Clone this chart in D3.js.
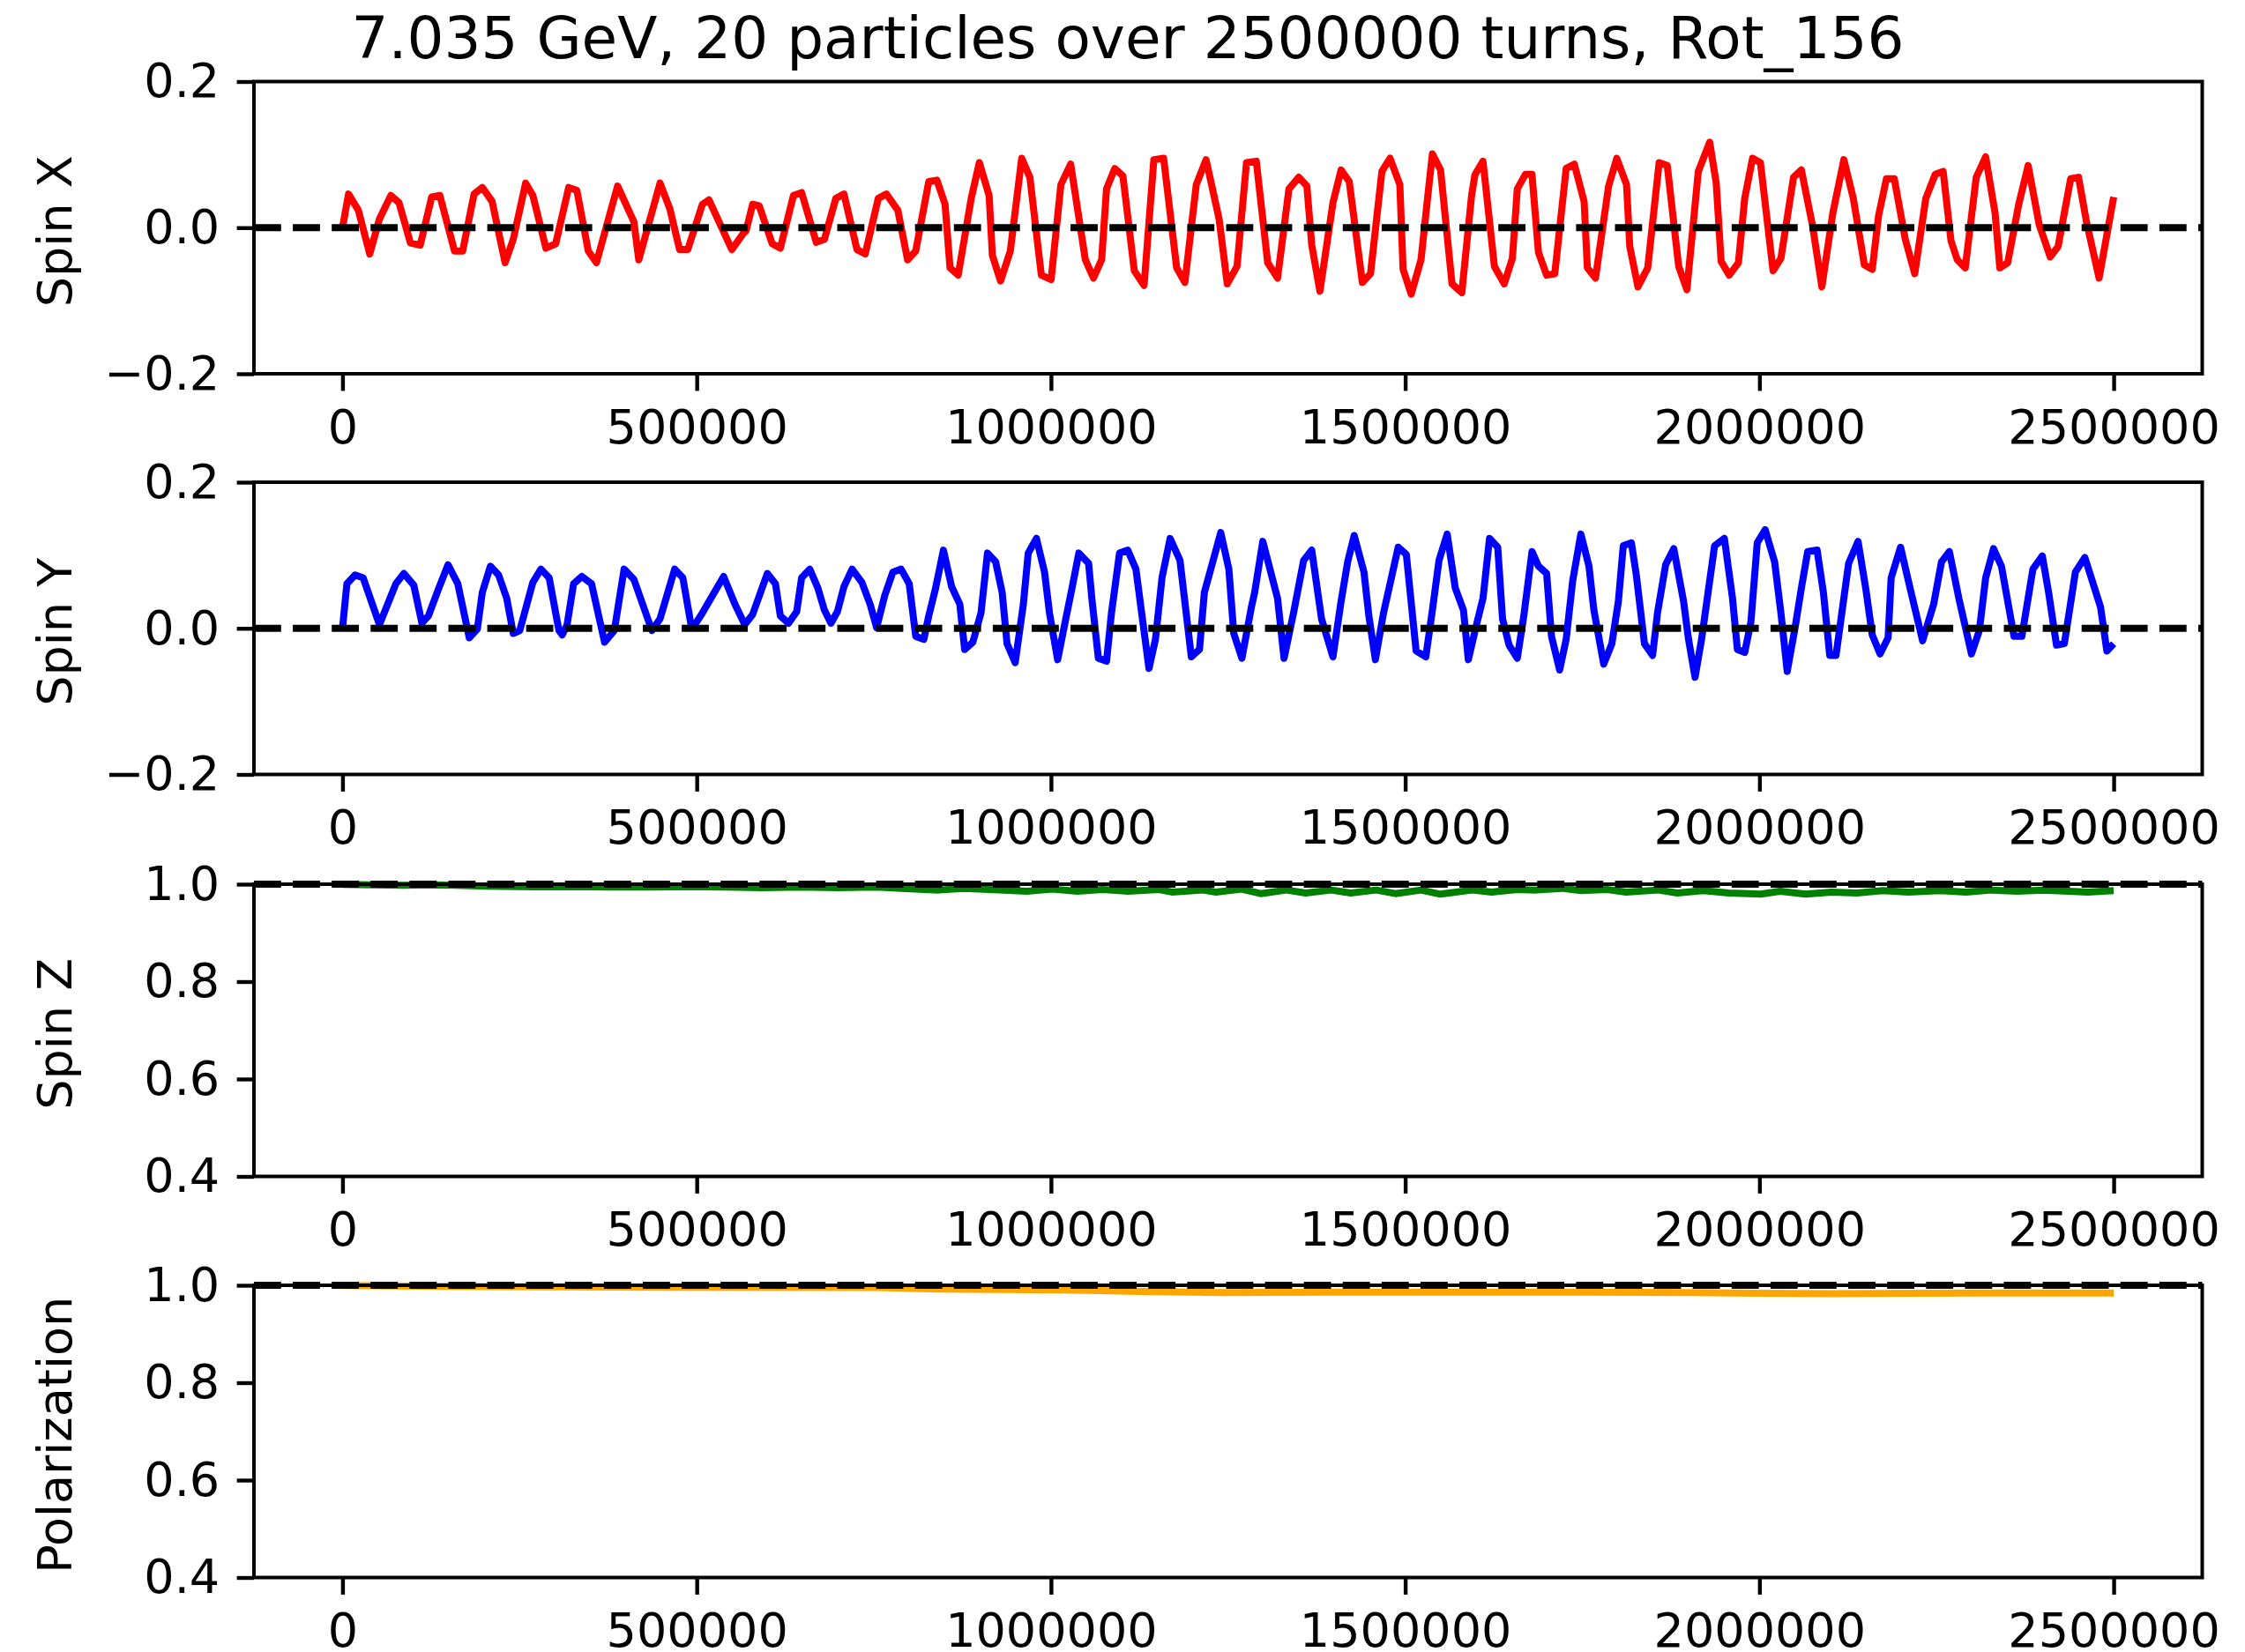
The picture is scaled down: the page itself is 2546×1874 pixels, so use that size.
<!DOCTYPE html>
<html><head><meta charset="utf-8">
<script src="https://cdn.jsdelivr.net/npm/d3@7"></script>
<style>body{margin:0;background:#fff} svg{display:block} text{font-family:"DejaVu Sans",sans-serif;fill:#000}</style>
</head><body><svg id="c" width="2546" height="1874"></svg>
<script>
const title = "7.035 GeV, 20 particles over 2500000 turns, Rot_156";
const xTicks = [0, 500000, 1000000, 1500000, 2000000, 2500000];
const spinTicks = [-0.2, 0.0, 0.2];
const fracTicks = [0.4, 0.6, 0.8, 1.0];
const panelLabels = ["Spin X", "Spin Y", "Spin Z", "Polarization"];

// [turn, value] vertices
const spinX = [[0,0],[8500,0.046],[22300,0.024],[38400,-0.036],[52200,0.012],[68300,0.044],[79800,0.034],[95900,-0.021],[109700,-0.024],[125900,0.042],[137400,0.044],[158100,-0.032],[169600,-0.032],[185700,0.046],[197300,0.055],[211100,0.036],[229500,-0.048],[241000,-0.016],[258500,0.061],[268700,0.044],[287100,-0.028],[300900,-0.022],[319300,0.055],[330800,0.051],[346900,-0.032],[358400,-0.048],[388300,0.057],[411300,0.008],[418200,-0.044],[448200,0.061],[462000,0.026],[475800,-0.030],[487300,-0.030],[508000,0.032],[517200,0.038],[549500,-0.030],[565600,-0.008],[569700,-0.004],[578900,0.032],[588100,0.030],[606500,-0.022],[618000,-0.028],[636500,0.044],[648000,0.048],[668700,-0.020],[680200,-0.016],[696300,0.040],[707800,0.046],[726200,-0.030],[737800,-0.036],[756200,0.040],[767700,0.046],[783800,0.024],[797600,-0.044],[809100,-0.032],[827500,0.063],[839000,0.065],[850500,0.032],[857500,-0.055],[869000,-0.065],[887400,0.040],[898900,0.089],[912700,0.044],[917300,-0.038],[928800,-0.073],[942600,-0.032],[958700,0.095],[970200,0.069],[986400,-0.065],[1000200,-0.071],[1014000,0.059],[1027800,0.087],[1048500,-0.044],[1060000,-0.069],[1071500,-0.044],[1078400,0.053],[1090000,0.081],[1101500,0.071],[1117600,-0.059],[1131400,-0.079],[1145200,0.093],[1159000,0.095],[1177400,-0.055],[1189000,-0.075],[1205100,0.059],[1218900,0.093],[1237300,0.012],[1248800,-0.077],[1262600,-0.053],[1276000,0.089],[1289800,0.091],[1305900,-0.048],[1319800,-0.069],[1335900,0.053],[1349700,0.069],[1361200,0.057],[1368100,-0.024],[1379600,-0.087],[1398000,0.034],[1409500,0.079],[1421000,0.063],[1439500,-0.075],[1451000,-0.063],[1467100,0.077],[1478600,0.095],[1492400,0.059],[1497000,-0.057],[1508500,-0.091],[1522300,-0.044],[1531500,0.040],[1538400,0.101],[1549900,0.079],[1566100,-0.077],[1579900,-0.089],[1593700,0.044],[1598300,0.072],[1609800,0.091],[1625900,-0.053],[1639800,-0.077],[1651300,-0.042],[1658200,0.053],[1669700,0.073],[1678900,0.073],[1688100,-0.034],[1699600,-0.065],[1711100,-0.063],[1727200,0.081],[1738700,0.087],[1752500,0.036],[1757100,-0.055],[1768600,-0.069],[1787100,0.057],[1798600,0.095],[1812400,0.059],[1817000,-0.026],[1828500,-0.081],[1842300,-0.055],[1858400,0.089],[1869900,0.085],[1886000,-0.053],[1897600,-0.085],[1913700,0.077],[1929800,0.117],[1939000,0.061],[1945900,-0.046],[1957400,-0.065],[1970300,-0.048],[1979200,0.040],[1990300,0.095],[2001400,0.089],[2019200,-0.059],[2030300,-0.042],[2048100,0.069],[2059200,0.079],[2074700,0.004],[2088100,-0.081],[2103600,0.020],[2119200,0.093],[2132500,0.040],[2148100,-0.051],[2159200,-0.057],[2168100,0.016],[2179200,0.067],[2190300,0.067],[2205900,-0.016],[2219200,-0.063],[2234800,0.040],[2248100,0.073],[2259300,0.077],[2270400,-0.018],[2279300,-0.044],[2290500,-0.055],[2306000,0.069],[2319300,0.097],[2332600,0.020],[2339300,-0.055],[2350400,-0.048],[2366000,0.032],[2379300,0.085],[2394900,0.004],[2410400,-0.040],[2421500,-0.026],[2439300,0.067],[2450400,0.069],[2461600,0.008],[2479400,-0.069],[2500000,0.042]];

const spinY = [[0,0],[6200,0.061],[17700,0.073],[29200,0.069],[52200,0.005],[75300,0.061],[86700,0.075],[100600,0.059],[112100,0.007],[121300,0.017],[135100,0.053],[148900,0.087],[162700,0.061],[178900,-0.013],[190300,-0.001],[197300,0.049],[208800,0.085],[220300,0.073],[231800,0.041],[241000,-0.007],[250200,-0.003],[268700,0.063],[280100,0.081],[291700,0.069],[305500,-0.003],[310100,-0.009],[317000,0.005],[326200,0.061],[337700,0.071],[351500,0.061],[369900,-0.019],[383700,-0.003],[397500,0.081],[411300,0.067],[436700,-0.003],[448200,0.013],[468900,0.081],[480400,0.069],[491900,0.005],[498800,0.007],[508000,0.021],[537900,0.071],[554000,0.033],[567800,0.005],[578900,0.019],[599600,0.075],[611100,0.061],[618000,0.017],[629600,0.007],[641100,0.023],[648000,0.069],[659500,0.081],[671000,0.055],[680200,0.025],[689400,0.007],[698600,0.023],[707800,0.057],[719300,0.081],[733100,0.063],[744700,0.033],[753900,0.001],[765400,0.045],[776900,0.077],[788400,0.081],[799900,0.061],[809100,-0.011],[820600,-0.015],[827500,0.017],[836700,0.053],[848200,0.107],[859800,0.057],[871300,0.033],[878200,-0.029],[889700,-0.019],[901200,0.021],[910400,0.103],[921900,0.091],[931100,0.049],[938000,-0.021],[949500,-0.047],[961000,0.033],[967900,0.103],[979500,0.123],[990900,0.077],[997900,0.021],[1009400,-0.043],[1020900,0.013],[1030100,0.057],[1039300,0.103],[1053100,0.089],[1057700,0.041],[1066900,-0.041],[1078400,-0.045],[1085400,0.021],[1096800,0.103],[1108400,0.107],[1119900,0.081],[1129100,0.013],[1138300,-0.055],[1147500,-0.015],[1156700,0.069],[1168200,0.123],[1182100,0.093],[1198100,-0.039],[1209600,-0.029],[1216500,0.049],[1239600,0.131],[1251100,0.081],[1258000,-0.007],[1269500,-0.041],[1282900,0.029],[1287500,0.049],[1299000,0.119],[1319800,0.041],[1329000,-0.041],[1342800,0.023],[1356600,0.093],[1368100,0.107],[1381900,0.013],[1398000,-0.039],[1409500,0.037],[1418800,0.091],[1428000,0.127],[1441800,0.077],[1448700,0.017],[1457900,-0.043],[1469400,0.021],[1490100,0.111],[1501600,0.101],[1515400,-0.031],[1529100,-0.039],[1538400,0.025],[1547700,0.093],[1559200,0.129],[1570700,0.055],[1582200,0.025],[1589100,-0.043],[1600600,0.005],[1609800,0.041],[1619000,0.123],[1630600,0.111],[1637400,0.013],[1646600,-0.023],[1658200,-0.041],[1667400,0.017],[1679000,0.105],[1688100,0.085],[1699600,0.075],[1706500,-0.011],[1718000,-0.057],[1727200,-0.015],[1736400,0.065],[1747900,0.129],[1759400,0.085],[1766300,0.025],[1780200,-0.049],[1791700,-0.021],[1800900,0.037],[1807800,0.113],[1819300,0.117],[1826200,0.073],[1837700,-0.021],[1849200,-0.037],[1856100,0.021],[1867600,0.087],[1879100,0.109],[1892900,0.037],[1899900,-0.015],[1909100,-0.067],[1918300,-0.015],[1925200,0.033],[1936700,0.113],[1950500,0.123],[1962000,0.041],[1968900,-0.029],[1979200,-0.033],[1988000,0.009],[1996900,0.117],[2008100,0.135],[2021400,0.091],[2030300,0.021],[2039200,-0.059],[2050300,0.001],[2059200,0.055],[2068100,0.105],[2081400,0.107],[2090300,0.049],[2099200,-0.037],[2108100,-0.037],[2125900,0.089],[2139200,0.119],[2150300,0.053],[2159200,-0.009],[2170300,-0.035],[2181600,-0.013],[2185900,0.069],[2199200,0.111],[2212600,0.055],[2230300,-0.017],[2245900,0.033],[2257000,0.091],[2268100,0.105],[2281500,0.041],[2299300,-0.035],[2310400,-0.003],[2319300,0.069],[2330400,0.109],[2341600,0.085],[2359300,-0.011],[2370400,-0.011],[2386000,0.081],[2399300,0.099],[2408200,0.049],[2419300,-0.023],[2430400,-0.021],[2446000,0.077],[2459300,0.097],[2481500,0.029],[2490400,-0.031],[2500000,-0.021]];

const spinZ = [[0,0.9995],[41300,0.9988],[85700,0.9976],[130200,0.9988],[201300,0.9958],[272500,0.9946],[325800,0.9952],[379200,0.994],[432500,0.994],[485900,0.9952],[539200,0.994],[592600,0.9928],[645900,0.994],[699300,0.9928],[752600,0.994],[788200,0.9916],[841600,0.988],[877100,0.9916],[912700,0.9892],[966100,0.9856],[1001600,0.9898],[1037200,0.9856],[1072800,0.9892],[1108300,0.9856],[1152800,0.9892],[1170600,0.9838],[1215000,0.988],[1232700,0.9838],[1268900,0.9898],[1296100,0.9807],[1332300,0.988],[1359400,0.982],[1395600,0.988],[1422800,0.982],[1459000,0.988],[1486100,0.9807],[1522300,0.988],[1549500,0.9795],[1594700,0.988],[1621900,0.9838],[1658100,0.9892],[1685200,0.988],[1721400,0.9916],[1748600,0.9868],[1784800,0.9892],[1811900,0.9838],[1857200,0.988],[1884300,0.982],[1920500,0.9868],[1956700,0.982],[2001900,0.9795],[2029100,0.9856],[2065300,0.9795],[2101500,0.9838],[2137700,0.982],[2173900,0.9868],[2210100,0.9838],[2255400,0.9868],[2291600,0.9838],[2327800,0.988],[2364000,0.9856],[2400200,0.988],[2436400,0.9856],[2463600,0.9838],[2500000,0.9868]];

const polarization = [[0,0.9995],[219100,0.9972],[485900,0.9958],[752600,0.9955],[841600,0.9925],[1019400,0.9905],[1108300,0.988],[1241700,0.985],[1400000,0.9862],[1500000,0.9858],[1750000,0.9862],[1900000,0.985],[2000000,0.9835],[2100000,0.9828],[2300000,0.9842],[2500000,0.984]];

const svg = d3.select("#c");
const left = 288, right = 2497.5;
const tops = [92.5, 547, 1003, 1458], ph = 331.5;
const panels = [
  {label: panelLabels[0], data: spinX, color: "#ff0000", domain: [-0.2, 0.2], ticks: spinTicks, ref: 0},
  {label: panelLabels[1], data: spinY, color: "#0000ff", domain: [-0.2, 0.2], ticks: spinTicks, ref: 0},
  {label: panelLabels[2], data: spinZ, color: "#008000", domain: [0.4, 1.0], ticks: fracTicks, ref: 1},
  {label: panelLabels[3], data: polarization, color: "#ffa500", domain: [0.4, 1.0], ticks: fracTicks, ref: 1}
];
const x = d3.scaleLinear().domain([-125000, 2625000]).range([left, right]);
const FS = 54, TL = 19.4, TP = 19.4;

svg.append("text").attr("x", 1279).attr("y", 66).attr("text-anchor", "middle")
  .style("font-size", "66px").text(title);

panels.forEach((p, i) => {
  const top = tops[i], bot = top + ph;
  const y = d3.scaleLinear().domain(p.domain).range([bot, top]);
  const g = svg.append("g");
  const line = d3.line().x(d => x(d[0])).y(d => y(d[1]));
  g.append("path").datum(p.data).attr("d", line).attr("fill", "none")
    .attr("stroke", p.color).attr("stroke-width", 8).attr("stroke-linejoin", "round").attr("stroke-linecap", "butt");
  g.append("line").attr("x1", left).attr("x2", right).attr("y1", y(p.ref)).attr("y2", y(p.ref))
    .attr("stroke", "#000").attr("stroke-width", 8).attr("stroke-dasharray", "30.8,13.3");
  g.append("rect").attr("x", left).attr("y", top).attr("width", right - left).attr("height", ph)
    .attr("fill", "none").attr("stroke", "#000").attr("stroke-width", 4);
  const xa = g.append("g").attr("transform", `translate(0,${bot})`)
    .call(d3.axisBottom(x).tickValues(xTicks).tickFormat(d3.format("d")).tickSize(TL).tickPadding(TP).tickSizeOuter(0));
  const ya = g.append("g").attr("transform", `translate(${left},0)`)
    .call(d3.axisLeft(y).tickValues(p.ticks).tickFormat(d3.format(".1f")).tickSize(TL).tickPadding(TP).tickSizeOuter(0));
  [xa, ya].forEach(a => {
    a.select(".domain").remove();
    a.selectAll("line").attr("stroke-width", 4.4).attr("stroke", "#000");
    a.selectAll("text").style("font-size", FS + "px").attr("font-family", null).attr("fill", "#000");
  });
  xa.selectAll("text").attr("dy", "0.74em");
  const cy = (top + bot) / 2 + 4;
  svg.append("text").attr("transform", `translate(62,${cy}) rotate(-90)`)
    .attr("text-anchor", "middle").attr("dominant-baseline", "central")
    .style("font-size", FS + "px").text(p.label);
});
</script></body></html>
